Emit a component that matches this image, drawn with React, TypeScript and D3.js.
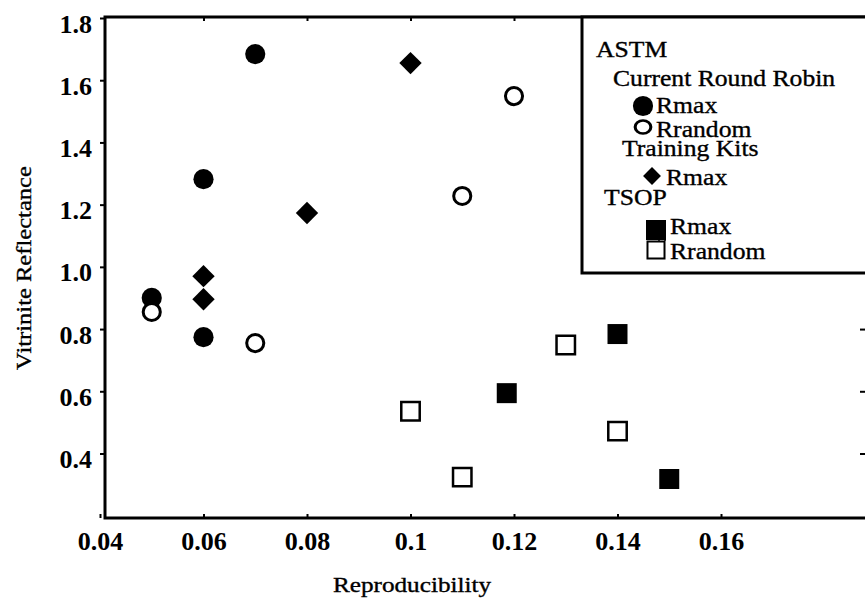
import React, { useEffect, useRef } from "react";
import * as d3 from "d3";

const xTicks = [0.04, 0.06, 0.08, 0.1, 0.12, 0.14, 0.16];
const yTicks = [0.4, 0.6, 0.8, 1.0, 1.2, 1.4, 1.6, 1.8];

// ASTM, current round robin
const rrMaxX = [0.05, 0.06, 0.07, 0.06];
const rrMaxY = [0.9, 1.282, 1.684, 0.774];
const rrRandX = [0.05, 0.07, 0.11, 0.12];
const rrRandY = [0.855, 0.755, 1.228, 1.549];
// ASTM, training kits
const kitMaxX = [0.06, 0.06, 0.08, 0.1];
const kitMaxY = [0.97, 0.896, 1.173, 1.655];
// TSOP
const tsopMaxX = [0.1186, 0.14, 0.15];
const tsopMaxY = [0.594, 0.784, 0.318];
const tsopRandX = [0.1, 0.11, 0.13, 0.14];
const tsopRandY = [0.536, 0.324, 0.749, 0.472];

const W = 865;
const H = 600;
const FONT = "'Liberation Serif', 'Times New Roman', serif";

export default function App() {
  const ref = useRef<SVGSVGElement>(null);

  useEffect(() => {
    const svg = d3.select(ref.current);
    svg.selectAll("*").remove();

    const frame = { left: 105, right: 868, top: 17, bottom: 518 };
    const x = d3.scaleLinear().domain([0.04, 0.14]).range([100, 617.5]);
    const y = d3.scaleLinear().domain([0.4, 1.8]).range([453.5, 18]);

    // stretched text helper (the scan is wider than normal type)
    const label = (g: any, tx: number, ty: number, txt: string, size: number, sx: number, anchor = "start", rot = 0) =>
      g.append("g")
        .attr("transform", `translate(${tx},${ty}) rotate(${rot}) scale(${sx},1)`)
        .append("text")
        .attr("text-anchor", anchor)
        .style("font-family", FONT)
        .style("font-size", size + "px")
        .attr("fill", "#000")
        .attr("stroke", "#000")
        .attr("stroke-width", 0.35)
        .text(txt);

    // axes
    const left = svg.append("g").attr("transform", `translate(${frame.left},0)`)
      .call(d3.axisLeft(y).tickValues(yTicks).tickSize(5).tickPadding(8).tickFormat(d3.format(".1f")) as any);
    const bottom = svg.append("g").attr("transform", `translate(0,${frame.bottom})`)
      .call(d3.axisBottom(x).tickValues(xTicks).tickSize(-4).tickPadding(14).tickFormat((d: any) => String(+d)) as any);
    const top = svg.append("g").attr("transform", `translate(0,${frame.top})`)
      .call(d3.axisTop(x).tickValues(xTicks.slice(1)).tickSize(-4).tickFormat(() => "") as any);
    const right = svg.append("g").attr("transform", `translate(${frame.right - 2},0)`)
      .call(d3.axisRight(y).tickValues(yTicks).tickSize(-6).tickFormat(() => "") as any);

    [left, bottom, top, right].forEach((g) => {
      g.select(".domain").remove();
      g.selectAll("line").attr("stroke", "#000").attr("stroke-width", 2);
      g.selectAll("text").style("font-family", FONT).style("font-size", "26px")
        .style("font-weight", "bold").attr("fill", "#000");
    });
    left.selectAll("text").attr("dy", "0.54em");
    bottom.selectAll("text").attr("dy", "0.69em");

    // frame
    svg.append("rect")
      .attr("x", frame.left).attr("y", frame.top)
      .attr("width", frame.right - frame.left).attr("height", frame.bottom - frame.top)
      .attr("fill", "none").attr("stroke", "#000").attr("stroke-width", 3);

    // axis titles
    label(svg, 412, 592, "Reproducibility", 21, 1.2, "middle");
    label(svg, 31, 268, "Vitrinite Reflectance", 21, 1.17, "middle", -90);

    const sym = (type: any, size: number) => d3.symbol().type(type).size(size)();
    const circleFill = sym(d3.symbolCircle, 320);
    const circleOpen = sym(d3.symbolCircle, 230);
    const diamond = sym(d3.symbolSquare, 250);
    const squareFill = sym(d3.symbolSquare, 400);
    const squareOpen = sym(d3.symbolSquare, 340);

    const plot = (xs: number[], ys: number[], path: string | null, fill: string, rot = 0, sw = 0) =>
      svg.append("g").selectAll("path")
        .data(xs.map((v, i) => [v, ys[i]]))
        .enter()
        .append("path")
        .attr("d", path)
        .attr("transform", (d: number[]) => `translate(${x(d[0])},${y(d[1])}) rotate(${rot})`)
        .attr("fill", fill)
        .attr("stroke", sw ? "#000" : "none")
        .attr("stroke-width", sw);

    plot(rrMaxX, rrMaxY, circleFill, "#000");
    plot(rrRandX, rrRandY, circleOpen, "#fff", 0, 3);
    plot(kitMaxX, kitMaxY, diamond, "#000", 45);
    plot(tsopMaxX, tsopMaxY, squareFill, "#000");
    plot(tsopRandX, tsopRandY, squareOpen, "#fff", 0, 2.5);

    // legend
    const lg = svg.append("g");
    lg.append("rect")
      .attr("x", 582).attr("y", frame.top)
      .attr("width", 300).attr("height", 273 - frame.top)
      .attr("fill", "#fff").attr("stroke", "#000").attr("stroke-width", 3);

    const ls = 22.5;
    const lsx = 1.14;
    label(lg, 596, 57, "ASTM", ls, lsx);
    label(lg, 613, 86, "Current Round Robin", ls, lsx);
    lg.append("path").attr("d", circleFill).attr("transform", "translate(643,106)").attr("fill", "#000");
    label(lg, 656, 113, "Rmax", ls, lsx);
    lg.append("path").attr("d", sym(d3.symbolCircle, 160)).attr("transform", "translate(643,127) scale(1.1,0.92)")
      .attr("fill", "#fff").attr("stroke", "#000").attr("stroke-width", 2.8);
    label(lg, 656, 137, "Rrandom", ls, lsx);
    label(lg, 622, 156, "Training Kits", ls, lsx);
    lg.append("path").attr("d", sym(d3.symbolSquare, 160)).attr("transform", "translate(652,176) rotate(45)").attr("fill", "#000");
    label(lg, 666, 185, "Rmax", ls, lsx);
    label(lg, 604, 205, "TSOP", ls, lsx);
    lg.append("path").attr("d", sym(d3.symbolSquare, 400)).attr("transform", "translate(656,230)").attr("fill", "#000");
    label(lg, 670, 234, "Rmax", ls, lsx);
    lg.append("path").attr("d", sym(d3.symbolSquare, 290)).attr("transform", "translate(656,250)")
      .attr("fill", "#fff").attr("stroke", "#000").attr("stroke-width", 2);
    lg.append("path").attr("d", "M659,241 V237 H665 V241").attr("fill", "none").attr("stroke", "#000").attr("stroke-width", 1.5);
    label(lg, 670, 259, "Rrandom", ls, lsx);
  }, []);

  return (
    <div style={{ position: "absolute", left: 0, top: 0, background: "#fff" }}>
      <svg ref={ref} width={W} height={H} style={{ display: "block" }} />
    </div>
  );
}
